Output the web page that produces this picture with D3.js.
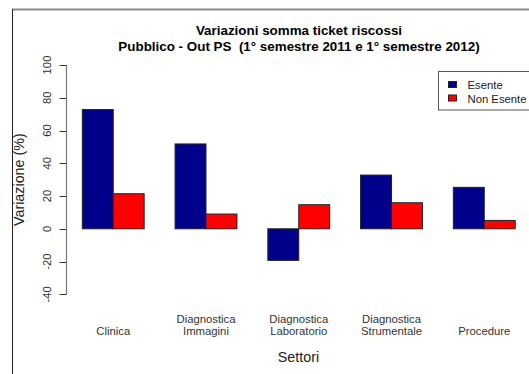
<!DOCTYPE html>
<html><head><meta charset="utf-8">
<script src="https://cdn.jsdelivr.net/npm/d3@7"></script>
<style>body{margin:0;background:#fff}svg{display:block}text{font-family:"Liberation Sans",Arial,sans-serif}</style>
</head><body>
<svg id="c" width="529" height="374"></svg>
<script>
const categories = [["Clinica"], ["Diagnostica","Immagini"], ["Diagnostica","Laboratorio"], ["Diagnostica","Strumentale"], ["Procedure"]];
const seriesNames = ["Esente", "Non Esente"];
const esente = [72.8, 51.8, -19.3, 32.8, 25.3];
const nonEsente = [21.4, 9.0, 14.7, 15.9, 5.1];
const yTicks = [-40, -20, 0, 20, 40, 60, 80, 100];
const colors = ["#00008B", "#FF0000"];

const svg = d3.select("#c");
const x = d3.scaleLinear().domain([0.44, 15.56]).range([65, 532.5]);
const y = d3.scaleLinear().domain([-40, 100]).range([294.3, 65]);

// frame
svg.append("line").attr("x1",12).attr("x2",529).attr("y1",9.5).attr("y2",9.5).attr("stroke","#8a8a8a").attr("stroke-width",2);
svg.append("line").attr("x1",12.5).attr("x2",12.5).attr("y1",9).attr("y2",374).attr("stroke","#222").attr("stroke-width",1);

// bars
const data = [];
categories.forEach((c,g)=>{
  [esente[g], nonEsente[g]].forEach((v,j)=>{
    data.push({u: 1 + 3*g + j, v, j});
  });
});
svg.append("g").selectAll("rect").data(data).join("rect")
  .attr("x", d=>x(d.u)).attr("width", d=>x(d.u+1)-x(d.u))
  .attr("y", d=>y(Math.max(0,d.v))).attr("height", d=>Math.abs(y(d.v)-y(0)))
  .attr("fill", d=>colors[d.j]).attr("stroke","#222").attr("stroke-width",1);

// y axis
const ax = svg.append("g").attr("transform","translate(66.5,0)");
ax.append("line").attr("x1",0).attr("x2",0).attr("y1",y(-40)).attr("y2",y(100)).attr("stroke","#777").attr("stroke-width",1.2);
ax.selectAll(".tk").data(yTicks).join("line").attr("class","tk")
  .attr("x1",-7).attr("x2",0).attr("y1",d=>Math.round(y(d))+0.5).attr("y2",d=>Math.round(y(d))+0.5).attr("stroke","#333");
ax.selectAll(".tl").data(yTicks).join("text").attr("class","tl")
  .attr("transform",d=>`translate(-16,${y(d)}) rotate(-90)`)
  .attr("text-anchor","middle").attr("font-size",11.3).attr("fill","#333").text(d=>d);

// category labels
categories.forEach((c,g)=>{
  const cx = x(2 + 3*g);
  const n = c.length;
  c.forEach((line,i)=>{
    svg.append("text").attr("x",cx).attr("y",335.3 - (n-1-i)*12.6)
      .attr("text-anchor","middle").attr("font-size",11.3).attr("fill","#333").text(line);
  });
});

// axis titles
svg.append("text").attr("x",298.5).attr("y",362).attr("text-anchor","middle").attr("font-size",14.3).attr("fill","#222").text("Settori");
svg.append("text").attr("transform",`translate(24,${y(30)}) rotate(-90)`).attr("text-anchor","middle").attr("font-size",14.3).attr("fill","#222").text("Variazione (%)");

// title
svg.append("text").attr("x",299).attr("y",35).attr("text-anchor","middle").attr("font-size",13.4).attr("font-weight","bold").attr("fill","#000").text("Variazioni somma ticket riscossi");
svg.append("text").attr("x",299).attr("y",50.5).attr("text-anchor","middle").attr("font-size",13.4).attr("font-weight","bold").attr("fill","#000").attr("xml:space","preserve").style("white-space","pre").text("Pubblico - Out PS  (1° semestre 2011 e 1° semestre 2012)");

// legend
const lg = svg.append("g");
lg.append("rect").attr("x",438.5).attr("y",71.5).attr("width",95).attr("height",38.5).attr("fill","#fff").attr("stroke","#555").attr("stroke-width",1);
seriesNames.forEach((s,i)=>{
  lg.append("rect").attr("x",448.5).attr("y",81.5+i*13.5).attr("width",8).attr("height",6).attr("fill",colors[i]).attr("stroke","#222");
  lg.append("text").attr("x",467.5).attr("y",88.5+i*14).attr("font-size",11.3).attr("fill","#222").text(s);
});
</script>
</body></html>
